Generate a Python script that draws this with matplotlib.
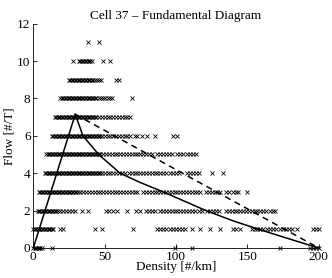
import numpy as np
import matplotlib
matplotlib.use("Agg")
import matplotlib.pyplot as plt

plt.rcParams['font.family'] = ['Liberation Serif', 'DejaVu Serif']

# ----------------------------
# Observed densities [#/km] for each flow level [#/T]
# ----------------------------
flow_levels = [0, 1, 2, 3, 4, 5, 6, 7, 8, 9, 10, 11]

dens_0 = [0, 1, 2, 3, 4, 5, 6, 13, 99.5, 111, 173, 194, 196, 198, 200]
dens_1 = [0, 1, 2, 3, 4, 5, 6, 7, 8, 9, 10, 11, 12, 13, 14,
          19, 21, 43, 48, 70, 87, 89, 91, 93, 96, 98, 100, 102, 104, 106,
          111, 117, 124, 131, 140, 142, 145, 153, 155, 157, 159, 161, 164,
          166, 168, 170, 173, 175, 177, 179, 181, 185, 196, 198, 200]
dens_2 = [3, 4, 5, 6, 7, 8, 9, 10, 11, 12, 13, 14, 15, 16, 17,
          19, 21, 23, 25, 27, 29, 34, 38.5, 51, 53, 56, 59, 66, 72, 75,
          79, 81, 83, 85, 89, 91, 93, 95, 97, 99, 101, 103, 105, 107, 109,
          111, 113, 116, 118, 122, 124, 126, 128, 130, 135, 137, 139, 141,
          143, 145, 147, 149, 151, 153, 155, 157, 159, 161, 163, 166, 168,
          169.5]
dens_3 = [4, 5, 6, 7, 8, 9, 10, 11, 12, 13, 14, 15, 16, 17, 18, 19, 20,
          21, 22, 23, 24, 25, 26, 27, 28, 29, 30, 31,
          33, 35, 37, 39, 41, 43, 45, 47, 49, 51, 53, 55, 57, 59, 61, 63,
          65, 67, 69, 71, 73, 77, 79, 81, 83, 85, 87, 89, 91, 93, 95, 97,
          99, 101, 103, 105, 107, 109, 111, 113, 115, 117, 121, 123, 125,
          127, 129, 131, 135, 137, 140, 142, 143.5, 150]
dens_4 = [8, 9, 10, 11, 12, 13, 14, 15, 16, 17, 18, 19, 20, 21, 22, 23,
          24, 25, 26, 27, 28, 29, 30, 31, 32, 33, 34, 35, 36, 37, 38, 39,
          40, 41, 42, 43, 44, 45, 46, 47, 48,
          50, 52, 54, 56, 58, 60, 62, 64, 67, 69, 71, 73, 75, 77, 79, 81,
          83, 85, 87, 89, 91, 93, 96, 98, 100, 102, 108, 110, 112, 114,
          116, 125, 133]
dens_5 = [9, 10, 11, 12, 13, 14, 15, 16, 17, 18, 19, 20, 21, 22, 23, 24,
          25, 26, 27, 28, 29, 30, 31, 32, 33, 34, 35, 36, 37, 38, 39, 40,
          41, 42, 43, 44, 45, 46, 47,
          49, 51, 53, 55, 57, 59, 61, 63, 65, 67, 69, 71, 73, 75, 77, 79,
          81, 83, 87, 89, 91, 93, 95, 97, 101, 103, 105, 108, 110, 112, 114]
dens_6 = [13, 14, 15, 16, 17, 18, 19, 20, 21, 22, 23, 24, 25, 26, 27, 28,
          29, 30, 31, 32, 33, 34, 35, 36, 37, 38, 39, 40, 41, 42, 43, 44,
          45, 46, 47, 48,
          50, 52, 54, 56, 58, 60, 62, 64, 66, 68, 71, 73, 76, 79.5, 85,
          98, 100.5]
dens_7 = [15, 16, 17, 18, 19, 20, 21, 22, 23, 24, 25, 26, 27, 28, 29, 30,
          31, 32, 33, 34, 35, 36, 37, 38, 39, 40, 41, 42, 43, 44,
          46, 48, 50, 52, 54, 56, 58, 60, 62, 64, 66, 68]
dens_8 = [19, 20, 21, 22, 23, 24, 25, 26, 27, 28, 29, 30, 31, 32, 33, 34,
          35, 36, 37, 38, 39, 40, 41, 42, 43, 44,
          46, 47.5, 49, 50.5, 52, 53.5, 55, 69]
dens_9 = [25, 26, 27, 28, 29, 30, 31, 32, 33, 34, 35, 36, 37, 38, 39, 40,
          41, 42, 43, 44.5, 46, 47.5, 58, 60]
dens_10 = [28, 32, 33, 34, 35, 36, 37, 38, 39, 40, 41, 49, 53.5]
dens_11 = [38, 46]

all_dens = [dens_0, dens_1, dens_2, dens_3, dens_4, dens_5, dens_6,
            dens_7, dens_8, dens_9, dens_10, dens_11]

# ----------------------------
# Fitted fundamental diagram
# ----------------------------
free_k = [0, 29.4]
free_q = [0, 7.15]

cong_k = [29.4, 34.8, 45.8, 60.8, 75, 91, 106, 121, 140, 160, 180, 200]
cong_q = [7.15, 6.0, 5.0, 4.0, 3.5, 3.0, 2.5, 2.0, 1.45, 0.95, 0.47, 0.0]

tri_k = [29.4, 200]
tri_q = [7.15, 0]

# ----------------------------
# VISUALIZATION
# ----------------------------
fig = plt.figure(figsize=(3.32, 2.78), dpi=100)
ax = fig.add_axes([0.1003, 0.108, 0.8597, 0.807])

for q, dens in zip(flow_levels, all_dens):
    ax.plot(dens, [q] * len(dens), 'x', color='k', ms=2.4, mew=0.6,
            clip_on=False)

ax.plot(free_k, free_q, '-', color='k', lw=1.1)
ax.plot(cong_k, cong_q, '-', color='k', lw=1.1)
ax.plot(tri_k, tri_q, '--', color='k', lw=1.1, dashes=(4, 3))

ax.set_xlim(0, 200)
ax.set_ylim(0, 12)
ax.set_xticks([0, 50, 100, 150, 200])
ax.set_yticks([0, 2, 4, 6, 8, 10, 12])
ax.spines['top'].set_visible(False)
ax.spines['right'].set_visible(False)
ax.tick_params(direction='in', length=3, width=0.6, labelsize=9.5, pad=2)
for s in ['left', 'bottom']:
    ax.spines[s].set_linewidth(0.6)

ax.set_title("Cell 37 \u2013 Fundamental Diagram", fontsize=9.5, pad=3)
ax.set_xlabel("Density [#/km]", fontsize=9.5, labelpad=-1)
ax.set_ylabel("Flow [#/T]", fontsize=9.5, labelpad=1)

fig.savefig("out.png", dpi=100)
